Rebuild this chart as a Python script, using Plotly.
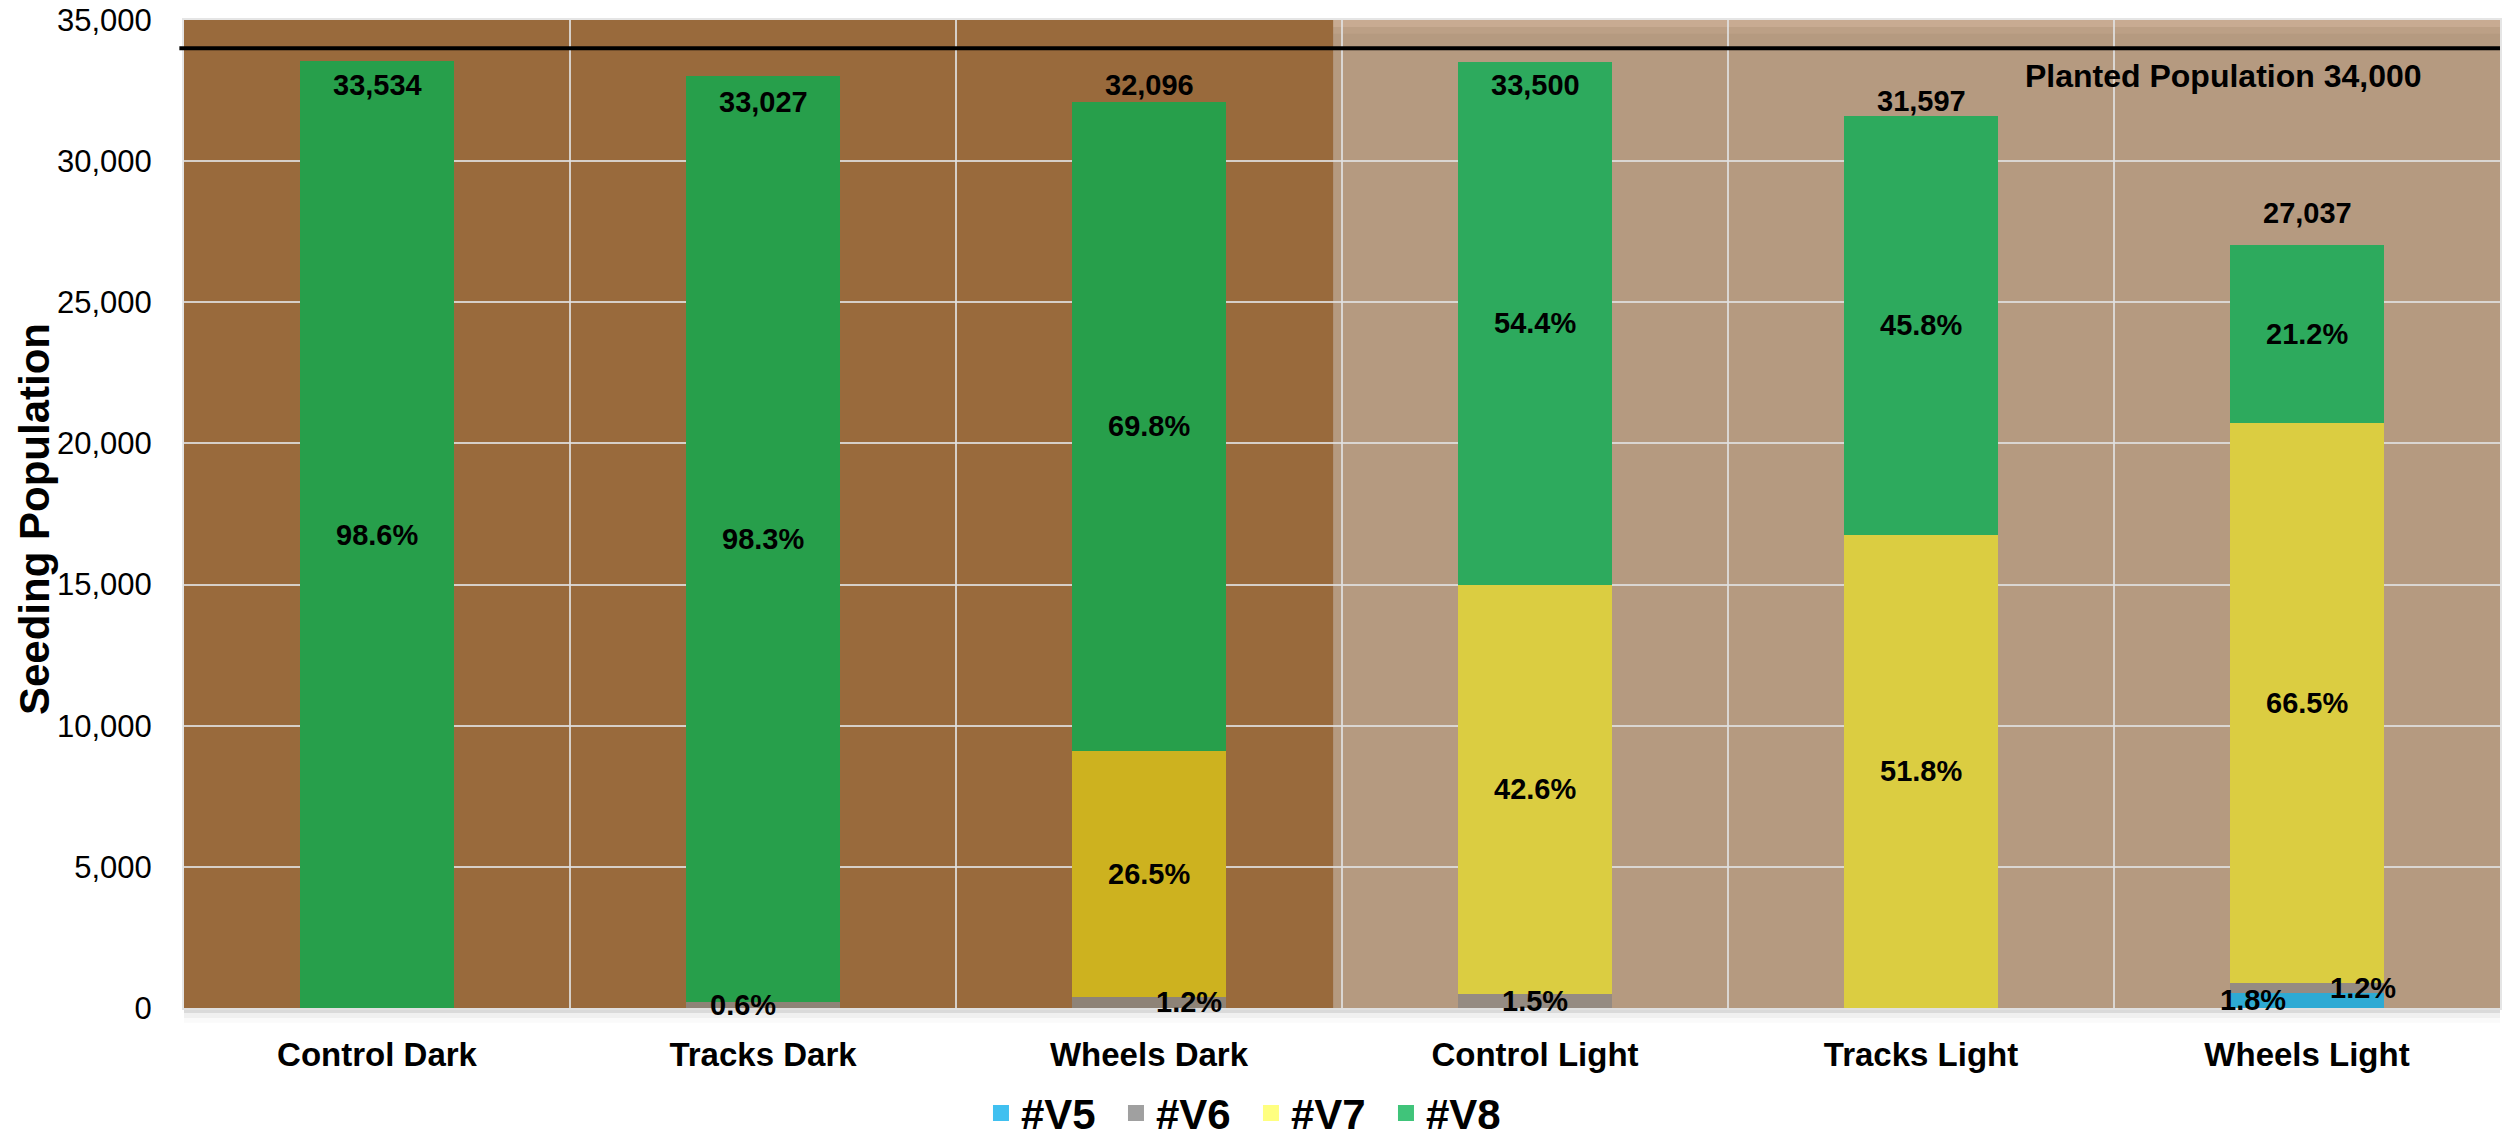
import plotly.graph_objects as go

# Seeding population by treatment, split by leaf stage
categories = ["Control Dark", "Tracks Dark", "Wheels Dark",
              "Control Light", "Tracks Light", "Wheels Light"]
totals = [33534, 33027, 32096, 33500, 31597, 27037]

stages = ["#V5", "#V6", "#V7", "#V8"]
pct_v5 = [None, None, None, None, None, 1.8]
pct_v6 = [None, 0.6, 1.2, 1.5, None, 1.2]
pct_v7 = [None, None, 26.5, 42.6, 51.8, 66.5]
pct_v8 = [98.6, 98.3, 69.8, 54.4, 45.8, 21.2]

planted = 34000
y_ticks = [0, 5000, 10000, 15000, 20000, 25000, 30000, 35000]

# ---- styling ----
FONT = "Liberation Sans, Arial, sans-serif"
legend_colors = ["#40C0F0", "#A0A0A0", "#FFFF80", "#40C47A"]
# bar fills as they appear on the dark (first three) and light (last three) soil
dark_fill = ["#2EAAD4", "#8E8377", "#CDB21F", "#279F4B"]
light_fill = ["#2EAAD4", "#958B82", "#DBCD41", "#2DAA5D"]
DARK_BG = "#996A3C"
LIGHT_BG = "#B59A80"
GRID = "rgba(225,225,225,0.85)"

pct_table = [pct_v5, pct_v6, pct_v7, pct_v8]

# each stage's share of the stand, scaled so the stack reaches the bar total
sums = [sum(p[i] for p in pct_table if p[i] is not None) for i in range(len(categories))]
seg_values = [[(totals[i] * p[i] / sums[i]) if p[i] is not None else 0
               for i in range(len(categories))] for p in pct_table]

fig = go.Figure()

for s, name in enumerate(stages):
    colors = [dark_fill[s] if i < 3 else light_fill[s] for i in range(len(categories))]
    fig.add_trace(go.Bar(
        x=categories, y=seg_values[s], name=name,
        marker=dict(color=colors, line=dict(width=0)),
        showlegend=False, hoverinfo="x+y",
    ))

# legend swatches
for s, name in enumerate(stages):
    fig.add_trace(go.Scatter(
        x=[None], y=[None], mode="markers", name=name,
        marker=dict(symbol="square", size=22, color=legend_colors[s]),
    ))

annotations = []

# stage percentage labels, centred in each segment
label_xshift = {(1, 1): -20, (1, 2): 40, (0, 5): -54, (1, 5): 56}
for s in range(len(stages)):
    base = [sum(seg_values[k][i] for k in range(s)) for i in range(len(categories))]
    for i, cat in enumerate(categories):
        p = pct_table[s][i]
        if p is None:
            continue
        annotations.append(dict(
            x=cat, y=base[i] + seg_values[s][i] / 2, xref="x", yref="y",
            text=f"{p:.1f}%", showarrow=False,
            xshift=label_xshift.get((s, i), 0),
            font=dict(family=FONT, size=29, color="black", weight="bold"),
        ))

# totals at the top of each stack
total_yshift = [-24, -26, 17, -23, 15, 32]
for i, cat in enumerate(categories):
    annotations.append(dict(
        x=cat, y=totals[i], xref="x", yref="y", text=f"{totals[i]:,}",
        showarrow=False, yanchor="middle", yshift=total_yshift[i],
        font=dict(family=FONT, size=29, color="black", weight="bold"),
    ))

annotations.append(dict(
    x=0.8805, y=planted, xref="paper", yref="y", xanchor="center",
    text=f"Planted Population {planted:,}", showarrow=False,
    yanchor="middle", yshift=-28,
    font=dict(family=FONT, size=32, color="black", weight="bold"),
))

# y-axis title
annotations.append(dict(
    x=-0.0643, y=0.495, xref="paper", yref="paper", xanchor="center", yanchor="middle",
    text="Seeding Population", textangle=-90, showarrow=False,
    font=dict(family=FONT, size=42, color="black", weight="bold"),
))

shapes = [
    # dark-soil panel behind the first three treatments
    dict(type="rect", xref="x", yref="y", x0=-0.52, x1=2.477, y0=-80, y1=35080,
         fillcolor=DARK_BG, line=dict(width=0), layer="below"),
    # slight sheen along the top of the light panel
    dict(type="rect", xref="x", yref="paper", x0=2.477, x1=5.5, y0=0.993, y1=1,
         fillcolor="rgba(215,185,160,0.55)", line=dict(width=0), layer="below"),
    dict(type="rect", xref="x", yref="paper", x0=2.477, x1=5.5, y0=0.986, y1=0.993,
         fillcolor="rgba(205,175,150,0.3)", line=dict(width=0), layer="below"),
    # planted population reference line
    dict(type="line", xref="paper", yref="y", x0=-0.002, x1=1, y0=planted, y1=planted,
         line=dict(color="black", width=4), layer="above"),
    # soft shadow under the plot area
    dict(type="rect", xref="paper", yref="paper", x0=0, x1=1, y0=-0.005, y1=0,
         fillcolor="rgba(150,150,150,0.35)", line=dict(width=0), layer="below"),
    dict(type="rect", xref="paper", yref="paper", x0=0, x1=1, y0=-0.010, y1=-0.005,
         fillcolor="rgba(170,170,170,0.18)", line=dict(width=0), layer="below"),
    dict(type="rect", xref="paper", yref="paper", x0=0, x1=1, y0=-0.015, y1=-0.010,
         fillcolor="rgba(190,190,190,0.08)", line=dict(width=0), layer="below"),
]

fig.update_layout(
    width=2503, height=1140,
    margin=dict(l=184, r=3, t=20, b=132, autoexpand=False),
    paper_bgcolor="white", plot_bgcolor=LIGHT_BG,
    barmode="stack", bargap=0.6,
    font=dict(family=FONT, color="black"),
    annotations=annotations, shapes=shapes,
    legend=dict(
        orientation="h", x=0.4607, xanchor="center", y=-0.1065, yanchor="middle",
        font=dict(family=FONT, size=42, color="black", weight="bold"),
        bgcolor="rgba(0,0,0,0)", itemwidth=30, traceorder="normal",
        entrywidth=90, entrywidthmode="pixels",
    ),
    xaxis=dict(
        type="category", tickson="boundaries", showgrid=True, gridcolor=GRID, gridwidth=2,
        showline=True, linecolor=GRID, linewidth=2, mirror=True,
        ticks="", ticklabelstandoff=16,
        tickfont=dict(family=FONT, size=33, color="black", weight="bold"),
        range=[-0.5, 5.5], fixedrange=True,
    ),
    yaxis=dict(
        range=[0, 35000], tickvals=y_ticks, tickformat=",",
        showgrid=True, gridcolor=GRID, gridwidth=2, zeroline=False,
        showline=True, linecolor=GRID, linewidth=2, mirror=True,
        ticks="", ticklabelstandoff=24,
        tickfont=dict(family=FONT, size=31, color="black"),
        fixedrange=True,
    ),
)

fig.write_html("out.html")
